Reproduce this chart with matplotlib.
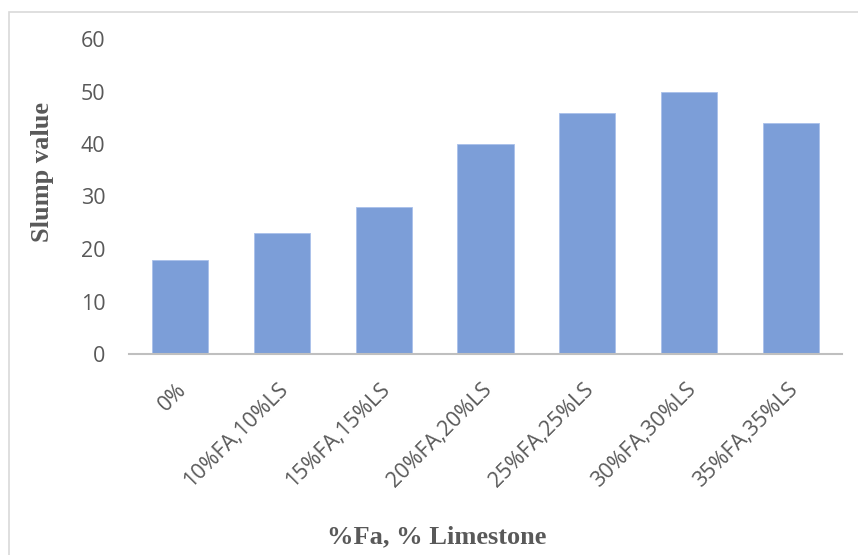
import matplotlib.pyplot as plt
from matplotlib.patches import Rectangle
from matplotlib.transforms import ScaledTranslation

categories = ["0%", "10%FA,10%LS", "15%FA,15%LS", "20%FA,20%LS",
              "25%FA,25%LS", "30%FA,30%LS", "35%FA,35%LS"]
slump = [18, 23, 28, 40, 46, 50, 44]
y_ticks = [0, 10, 20, 30, 40, 50, 60]

W, H = 858, 555
fig = plt.figure(figsize=(W / 100, H / 100), dpi=100)
ax = fig.add_axes([129 / W, 1 - 354 / H, (842 - 129) / W, (354 - 39) / H])

# light grey chart-area border, cut off at right and bottom like the source
fig.patches.append(Rectangle((8.5 / W, -0.1), 1.2, 1 - 11.5 / H + 0.1,
                             transform=fig.transFigure, fill=False,
                             edgecolor="#d9d9d9", linewidth=1.2))

x = range(len(categories))
ax.bar(x, slump, width=0.55, color="#7c9ed8", edgecolor="#a9c0ea", linewidth=0.6)

ax.set_xlim(-0.5, len(categories) - 0.5)
ax.set_ylim(0, 60)
ax.set_yticks(y_ticks)
ax.set_xticks(list(x))
ax.set_xticklabels(categories, rotation=45, ha="right", rotation_mode="anchor")

for lab in ax.get_xticklabels() + ax.get_yticklabels():
    lab.set_fontfamily("Open Sans")
    lab.set_fontsize(15.5)
    lab.set_color("#595959")

ax.tick_params(axis="y", length=0, pad=17)
ax.tick_params(axis="x", length=0, pad=18)
shift = ScaledTranslation(-0.04, 0, fig.dpi_scale_trans)
for lab in ax.get_xticklabels():
    lab.set_transform(lab.get_transform() + shift)

for side in ["top", "right", "left"]:
    ax.spines[side].set_visible(False)
ax.spines["bottom"].set_color("#bfbfbf")
ax.spines["bottom"].set_linewidth(1.5)

label_font = dict(family="Liberation Serif", weight="bold", size=19, color="#595959")
fig.text(43 / W, 1 - 172 / H, "Slump value", rotation=90, ha="center", va="center", **label_font)
fig.text(437 / W, 1 - 537 / H, "%Fa, % Limestone", ha="center", va="center", **label_font)

fig.savefig("out.png", dpi=100)
